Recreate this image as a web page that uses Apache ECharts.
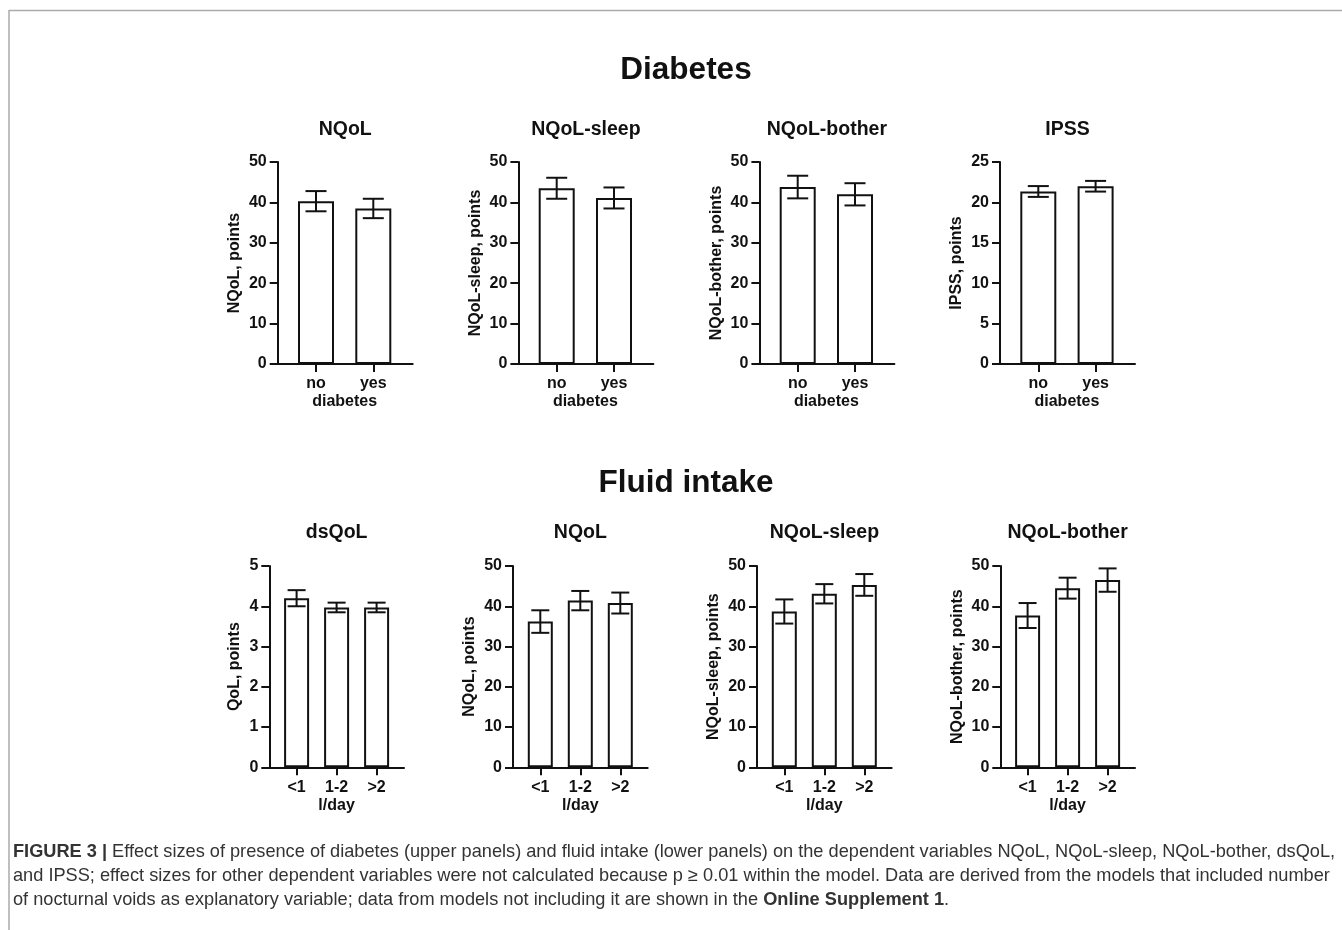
<!DOCTYPE html>
<html>
<head>
<meta charset="utf-8">
<script src="https://cdn.jsdelivr.net/npm/echarts@6/dist/echarts.min.js"></script>
<style>
html,body{margin:0;padding:0;background:#fff;}
#c{width:1342px;height:930px;}
</style>
</head>
<body>
<div id="c"></div>
<script>
// ---------- data ----------
const diabetesCats = ['no', 'yes'];
const fluidCats = ['<1', '1-2', '>2'];

const diabNQoL = [40.3, 38.5];
const diabNQoLErr = [2.5, 2.4];
const diabSleep = [43.5, 41.1];
const diabSleepErr = [2.6, 2.6];
const diabBother = [43.8, 42.0];
const diabBotherErr = [2.8, 2.75];
const diabIPSS = [21.35, 22.0];
const diabIPSSErr = [0.67, 0.66];

const fluidDsQoL = [4.2, 3.97, 3.97];
const fluidDsQoLErr = [0.2, 0.12, 0.12];
const fluidNQoL = [36.2, 41.4, 40.8];
const fluidNQoLErr = [2.8, 2.4, 2.6];
const fluidSleep = [38.7, 43.1, 45.3];
const fluidSleepErr = [3.0, 2.4, 2.7];
const fluidBother = [37.7, 44.5, 46.5];
const fluidBotherErr = [3.1, 2.6, 2.9];

const ticks50 = [0, 10, 20, 30, 40, 50];
const ticks25 = [0, 5, 10, 15, 20, 25];
const ticks5 = [0, 1, 2, 3, 4, 5];

// ---------- panels ----------
const topRow = {top: 162, height: 202, axisLen: 135, barOff: 9.65, barGridW: 114.6, barW: 36, cap: 21, xName: 'diabetes', cats: diabetesCats, titleY: 130};
const lowRow = {top: 566, height: 201.3, axisLen: 134.7, barOff: 7.3, barGridW: 120, barW: 25, cap: 18, xName: 'l/day', cats: fluidCats, titleY: 533};

const panels = [
  {row: topRow, x: 277.7, title: 'NQoL', yName: 'NQoL, points', mean: diabNQoL, err: diabNQoLErr, ticks: ticks50, gap: 35},
  {row: topRow, x: 518.4, title: 'NQoL-sleep', yName: 'NQoL-sleep, points', mean: diabSleep, err: diabSleepErr, ticks: ticks50, gap: 35},
  {row: topRow, x: 759.4, title: 'NQoL-bother', yName: 'NQoL-bother, points', mean: diabBother, err: diabBotherErr, ticks: ticks50, gap: 35},
  {row: topRow, x: 1000, title: 'IPSS', yName: 'IPSS, points', mean: diabIPSS, err: diabIPSSErr, ticks: ticks25, gap: 35},
  {row: lowRow, x: 269.3, title: 'dsQoL', yName: 'QoL, points', mean: fluidDsQoL, err: fluidDsQoLErr, ticks: ticks5, gap: 27},
  {row: lowRow, x: 513, title: 'NQoL', yName: 'NQoL, points', mean: fluidNQoL, err: fluidNQoLErr, ticks: ticks50, gap: 35},
  {row: lowRow, x: 757, title: 'NQoL-sleep', yName: 'NQoL-sleep, points', mean: fluidSleep, err: fluidSleepErr, ticks: ticks50, gap: 35},
  {row: lowRow, x: 1000.3, title: 'NQoL-bother', yName: 'NQoL-bother, points', mean: fluidBother, err: fluidBotherErr, ticks: ticks50, gap: 35}
];

const FONT = 'Liberation Sans, Arial, sans-serif';
const INK = '#111';
const grids = [], xAxes = [], yAxes = [], series = [], graphics = [];

panels.forEach((p) => {
  const r = p.row;
  const ymin = p.ticks[0], ymax = p.ticks[p.ticks.length - 1];
  const interval = p.ticks[1] - p.ticks[0];
  // axis frame grid
  const gA = grids.length;
  grids.push({left: p.x, top: r.top, width: r.axisLen, height: r.height, containLabel: false});
  xAxes.push({gridIndex: gA, type: 'value', min: 0, max: 1, silent: true,
    axisLine: {show: true, lineStyle: {color: INK, width: 2}}, axisTick: {show: false},
    axisLabel: {show: false}, splitLine: {show: false}});
  yAxes.push({gridIndex: gA, type: 'value', min: ymin, max: ymax, interval: interval,
    axisLine: {show: true, lineStyle: {color: INK, width: 2}},
    axisTick: {show: true, length: 8, lineStyle: {color: INK, width: 2}},
    axisLabel: {show: true, margin: 11, color: INK, fontFamily: FONT, fontWeight: 'bold', fontSize: 16},
    splitLine: {show: false},
    name: p.yName, nameLocation: 'middle', nameGap: p.gap,
    nameTextStyle: {color: INK, fontFamily: FONT, fontWeight: 'bold', fontSize: 16}});
  // bar grid
  const gB = grids.length;
  grids.push({left: p.x + r.barOff, top: r.top, width: r.barGridW, height: r.height, containLabel: false});
  xAxes.push({gridIndex: gB, type: 'category', data: r.cats,
    axisLine: {show: false},
    axisTick: {show: true, alignWithLabel: true, length: 8, lineStyle: {color: INK, width: 2}},
    axisLabel: {show: true, margin: 12, color: INK, fontFamily: FONT, fontWeight: 'bold', fontSize: 16},
    name: r.xName, nameLocation: 'middle', nameGap: 30,
    nameTextStyle: {color: INK, fontFamily: FONT, fontWeight: 'bold', fontSize: 16}});
  yAxes.push({gridIndex: gB, type: 'value', min: ymin, max: ymax, interval: interval, show: false});
  series.push({type: 'bar', xAxisIndex: gB, yAxisIndex: gB, data: p.mean, barWidth: r.barW,
    itemStyle: {color: '#fff', borderColor: INK, borderWidth: 2}, silent: true, z: 2, animation: false});
  const cap = r.cap / 2;
  series.push({type: 'custom', xAxisIndex: gB, yAxisIndex: gB, z: 3, silent: true, animation: false,
    data: p.mean.map((m, i) => [i, m - p.err[i], m + p.err[i]]),
    encode: {x: 0, y: [1, 2]},
    renderItem: function (params, api) {
      const lo = api.coord([api.value(0), api.value(1)]);
      const hi = api.coord([api.value(0), api.value(2)]);
      const st = {stroke: INK, lineWidth: 2};
      return {type: 'group', children: [
        {type: 'line', shape: {x1: lo[0], y1: lo[1], x2: hi[0], y2: hi[1]}, style: st},
        {type: 'line', shape: {x1: lo[0] - cap, y1: lo[1], x2: lo[0] + cap, y2: lo[1]}, style: st},
        {type: 'line', shape: {x1: hi[0] - cap, y1: hi[1], x2: hi[0] + cap, y2: hi[1]}, style: st}
      ]};
    }});
  graphics.push({type: 'text', x: p.x + r.axisLen / 2, y: r.titleY, silent: true,
    style: {text: p.title, fill: INK, font: 'bold 19.5px ' + FONT, align: 'center', verticalAlign: 'middle'}});
});

// section titles
graphics.push({type: 'text', x: 686, y: 70, silent: true,
  style: {text: 'Diabetes', fill: INK, font: 'bold 31.5px ' + FONT, align: 'center', verticalAlign: 'middle'}});
graphics.push({type: 'text', x: 686, y: 483, silent: true,
  style: {text: 'Fluid intake', fill: INK, font: 'bold 31.5px ' + FONT, align: 'center', verticalAlign: 'middle'}});

// frame lines
graphics.push({type: 'line', silent: true, shape: {x1: 9, y1: 10.5, x2: 1342, y2: 10.5}, style: {stroke: '#aaa', lineWidth: 1.5}});
graphics.push({type: 'line', silent: true, shape: {x1: 9, y1: 10, x2: 9, y2: 930}, style: {stroke: '#aaa', lineWidth: 1.5}});

// caption
const capFont = 18.2;
const capRich = {
  b: {fontFamily: FONT, fontWeight: 'bold', fontSize: capFont, color: '#333'},
  n: {fontFamily: FONT, fontSize: capFont, color: '#333'}
};
const capLines = [
  ['{b|FIGURE 3 |} {n|Effect sizes of presence of diabetes (upper panels) and fluid intake (lower panels) on the dependent variables NQoL, NQoL-sleep, NQoL-bother, dsQoL,}', 852],
  ['{n|and IPSS; effect sizes for other dependent variables were not calculated because p ≥ 0.01 within the model. Data are derived from the models that included number}', 876],
  ['{n|of nocturnal voids as explanatory variable; data from models not including it are shown in the }{b|Online Supplement 1}{n|.}', 900]
];
capLines.forEach(([t, y]) => {
  graphics.push({type: 'text', x: 13, y: y, silent: true,
    style: {text: t, rich: capRich, fill: '#333', font: capFont + 'px ' + FONT, align: 'left', verticalAlign: 'middle'}});
});

const chart = echarts.init(document.getElementById('c'), null, {renderer: 'canvas'});
chart.setOption({
  animation: false,
  backgroundColor: '#fff',
  grid: grids,
  xAxis: xAxes,
  yAxis: yAxes,
  series: series,
  graphic: graphics
});
</script>
</body>
</html>
